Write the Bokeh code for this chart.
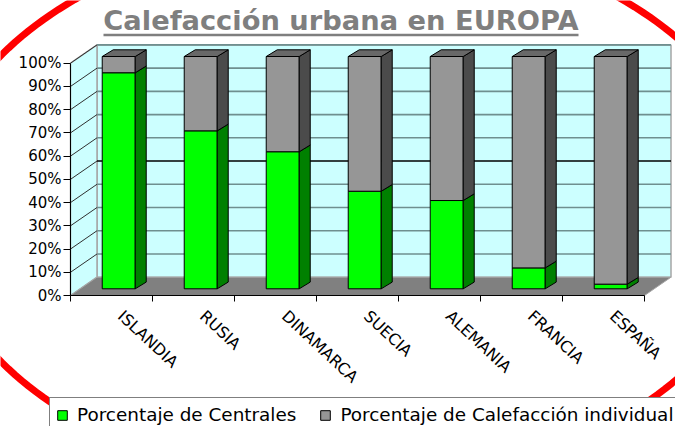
import numpy as np
from bokeh.plotting import figure
from bokeh.models import Range1d, FixedTicker, Legend, LegendItem, PolyAnnotation
from bokeh.core.properties import value
from bokeh.embed import file_html
from bokeh.resources import INLINE

# ---------------- data ----------------
countries = ["ISLANDIA", "RUSIA", "DINAMARCA", "SUECIA", "ALEMANIA", "FRANCIA", "ESPAÑA"]
centrales = [93, 68, 59, 42, 38, 9, 2]            # % district heating
individual = [100 - c for c in centrales]          # % individual heating
y_ticks = [0, 10, 20, 30, 40, 50, 60, 70, 80, 90, 100]
y_tick_labels = ["0%", "10%", "20%", "30%", "40%", "50%", "60%", "70%", "80%", "90%", "100%"]
title_text = "Calefacción urbana en EUROPA"
legend_labels = ["Porcentaje de Centrales", "Porcentaje de Calefacción individual"]

# ---------------- layout ----------------
W, H = 675, 426
PXX = 82.0                       # px per category
PXY = 2.323                      # px per percent
X0 = -0.5
n = len(countries)

def px2x(px):   # page x -> data x
    return X0 + (px - 70.0) / PXX

def px2y(py):   # page y -> data y
    return (295.0 - py) / PXY

DX, DY = 26.5 / PXX, 18.3 / PXY          # depth of the 3D box
BDX, BDY = 11.0 / PXX, 6.7 / PXY         # depth of a bar
BY = 6.7 / PXY                           # front plane of bars (y offset)
BL_OFF, BW = -0.113, 33.0 / PXX          # bar front-face left offset / width
LBL = 0.11                               # x-label anchor shift

p = figure(width=W, height=H, output_backend="svg", toolbar_location=None,
           x_range=Range1d(px2x(0), px2x(W)), y_range=Range1d(px2y(H), px2y(0)),
           min_border=0, min_border_left=0, min_border_right=0,
           min_border_top=0, min_border_bottom=0)
p.grid.visible = False
p.outline_line_color = None
p.background_fill_color = "white"
p.border_fill_color = "white"

# walls
p.quad(left=[X0 + DX], right=[X0 + n + DX], bottom=[DY], top=[100 + DY],
       fill_color="#CCFFFF", line_color="#A6A6A6", line_width=1.5)
p.patch(x=[X0, X0 + DX, X0 + DX, X0], y=[0, DY, 100 + DY, 100],
        fill_color="#CCFFFF", line_color="#A6A6A6", line_width=1.5)

# gridlines on back wall and left wall
gx, gy, gc = [], [], []
for v in y_ticks[1:]:
    gx.append([X0 + DX, X0 + n + DX]); gy.append([v + DY, v + DY])
    gc.append("#000000" if v == 50 else "#6F8F8F")
p.multi_line(xs=gx, ys=gy, line_color=gc, line_width=1.6)
p.multi_line(xs=[[X0, X0 + DX] for v in y_ticks[1:]],
             ys=[[v, v + DY] for v in y_ticks[1:]], line_color="#303030", line_width=1)

# floor
p.patch(x=[X0, X0 + n, X0 + n + DX, X0 + DX], y=[0, 0, DY, DY],
        fill_color="#808080", line_color="#A6A6A6", line_width=1)

# bars
L = [i + BL_OFF for i in range(n)]
R = [l + BW for l in L]
gtop = [BY + c for c in centrales]
ttop = [BY + c + s for c, s in zip(centrales, individual)]

green_front = p.quad(left=L, right=R, bottom=[BY] * n, top=gtop,
                     fill_color="#00FF00", line_color="black", line_width=1)
p.patches(xs=[[r, r + BDX, r + BDX, r] for r in R],
          ys=[[BY, BY + BDY, t + BDY, t] for t in gtop],
          fill_color="#008000", line_color="black", line_width=1)
gray_front = p.quad(left=L, right=R, bottom=gtop, top=ttop,
                    fill_color="#969696", line_color="black", line_width=1)
p.patches(xs=[[r, r + BDX, r + BDX, r] for r in R],
          ys=[[g, g + BDY, t + BDY, t] for g, t in zip(gtop, ttop)],
          fill_color="#4B4B4B", line_color="black", line_width=1)
p.patches(xs=[[l, l + BDX, r + BDX, r] for l, r in zip(L, R)],
          ys=[[t, t + BDY, t + BDY, t] for t in ttop],
          fill_color="#686868", line_color="black", line_width=1)

# title
p.text(x=[px2x(340.5)], y=[px2y(19.5)], text=[title_text], text_align="center",
       text_baseline="alphabetic", text_font=value("DejaVu Sans"), text_font_style="bold",
       text_font_size="27.3px", text_color="#7F7F7F")
p.line(x=[px2x(103), px2x(578)], y=[px2y(34.5), px2y(34.5)], line_color="#7F7F7F", line_width=2.5)

# axes (drawn at fixed positions inside the full-canvas frame)
ya = p.yaxis[0]
ya.fixed_location = X0
ya.ticker = FixedTicker(ticks=y_ticks)
ya.major_label_overrides = {t: l for t, l in zip(y_ticks, y_tick_labels)}
ya.bounds = (0, 100)
ya.major_tick_out = 7
ya.major_tick_in = 0
ya.minor_tick_line_color = None
ya.major_label_standoff = 2
ya.major_label_text_font = "DejaVu Sans"
ya.major_label_text_font_size = "15px"
ya.major_label_text_color = "black"
ya.axis_line_color = "black"
ya.major_tick_line_color = "black"

lbl_ticks = [i + LBL for i in range(n)]
xa = p.xaxis[0]
xa.fixed_location = 0
xa.ticker = FixedTicker(ticks=lbl_ticks, minor_ticks=[i - 0.5 for i in range(n + 1)])
xa.major_label_overrides = {t: c for t, c in zip(lbl_ticks, countries)}
xa.bounds = (X0, X0 + n)
xa.major_tick_out = 0
xa.major_tick_in = 0
xa.minor_tick_out = 6
xa.minor_tick_in = 0
xa.minor_tick_line_color = "black"
xa.major_label_orientation = -0.75
xa.major_label_standoff = 12
xa.major_label_text_font = "DejaVu Sans"
xa.major_label_text_font_size = "16px"
xa.major_label_text_color = "black"
xa.axis_line_color = "black"

# legend
legend = Legend(items=[LegendItem(label=legend_labels[0], renderers=[green_front]),
                       LegendItem(label=legend_labels[1], renderers=[gray_front])],
                orientation="horizontal", location=(49, -6),
                padding=6, margin=0, spacing=23, label_standoff=9,
                glyph_width=12, glyph_height=12, label_height=20,
                label_text_font="DejaVu Sans", label_text_font_size="18.4px",
                label_text_color="black", border_line_color="black",
                border_line_width=1, background_fill_color="white", background_fill_alpha=1)
p.add_layout(legend)

# red ellipse
t = np.linspace(0, 2 * np.pi, 240)
p.add_layout(PolyAnnotation(xs=list(px2x(348 + 417 * np.cos(t))), ys=list(px2y(208 + 277 * np.sin(t))),
                            line_color="#FF0000", line_width=7, fill_alpha=0, line_alpha=1))

open("out.html", "w").write(file_html(p, INLINE))
